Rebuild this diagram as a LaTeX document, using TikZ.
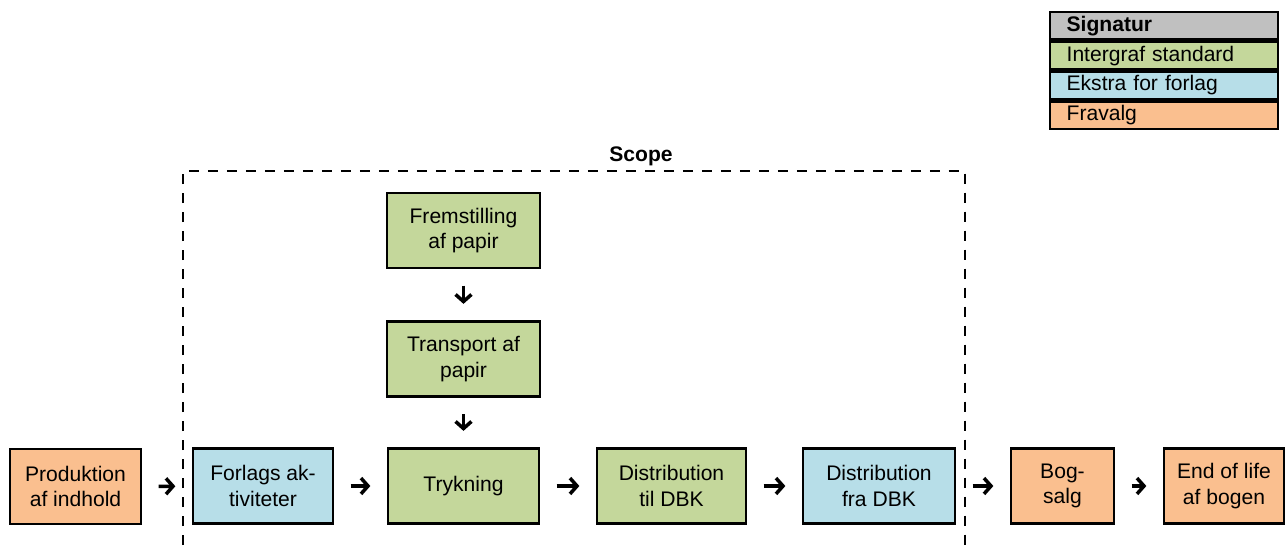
\documentclass[tikz,border=0pt]{standalone}
\usepackage{fontspec}
\setmainfont{Liberation Sans}
\usetikzlibrary{arrows.meta}
\definecolor{signgray}{HTML}{C0C0C0}
\definecolor{standardgreen}{HTML}{C4D79B}
\definecolor{ekstrablue}{HTML}{B7DEE8}
\definecolor{fravalgorange}{HTML}{FABF8F}
\begin{document}
\begin{tikzpicture}[x=0.02cm,y=-0.02cm]
            \tikzstyle{box}=[draw,line width=1.3pt,align=center,minimum height=1.5cm,inner sep=2pt,font=\fontsize{12}{14.5}\selectfont]
            \tikzstyle{std}=[box,fill=standardgreen]
            \tikzstyle{ekstra}=[box,fill=ekstrablue]
            \tikzstyle{fravalg}=[box,fill=fravalgorange]
            \tikzstyle{legend row}=[draw,line width=1.3pt,anchor=north west,minimum height=0.55cm,text width=3.9cm,inner xsep=0.33cm,inner ysep=0pt,align=left,font=\fontsize{12}{14.5}\selectfont]
            \tikzstyle{flow}=[line width=2pt,-{Straight Barb[length=4pt,width=9pt]},shorten <=0.33cm,shorten >=0.33cm]
            \tikzstyle{scope line}=[line width=1.1pt,dash pattern=on 0.2cm off 0.18cm]

            \useasboundingbox (0,0) rectangle (1286,545);

            % scope frame
            \node (scope) [font=\bfseries\fontsize{12}{14}\selectfont] at (641,156) {Scope};
            \draw[scope line] (183,545) -- (183,171) -- (965,171) -- (965,545);

            % main chain
            \node (prod)[fravalg,minimum width=2.62cm] at (75.5,486.5) {Produktion\\af indhold};
            \node (forl)[ekstra,minimum width=2.8cm] at (263,486) {Forlags ak-\\tiviteter};
            \node (tryk)[std,minimum width=3.02cm] at (463.5,486) {Trykning};
            \node (tildbk)[std,minimum width=2.98cm] at (671.5,486) {Distribution\\til DBK};
            \node (fradbk)[ekstra,minimum width=3.04cm] at (879,486) {Distribution\\fra DBK};
            \node (salg)[fravalg,minimum width=2.06cm] at (1062.5,486) {Bog-\\salg};
            \node (eol)[fravalg,minimum width=2.4cm] at (1224,486) {End of life\\af bogen};

            % paper branch
            \node (papir)[std,minimum width=3.06cm] at (463.5,230.5) {Fremstilling\\af papir};
            \node (transp)[std,minimum width=3.06cm] at (463.5,359) {Transport af\\papir};

            \draw[flow] (prod) -- (forl);
            \draw[flow] (forl) -- (tryk);
            \draw[flow] (tryk) -- (tildbk);
            \draw[flow] (tildbk) -- (fradbk);
            \draw[flow] (fradbk) -- (salg);
            \draw[flow] (salg) -- (eol);
            \draw[flow] (papir) -- (transp);
            \draw[flow] (transp) -- (tryk);

            % legend
            \node (sig)[legend row,fill=signgray,font=\bfseries\fontsize{12}{14.5}\selectfont] at (1049,11) {Signatur};
            \node (lstd)[legend row,fill=standardgreen] at (sig.south west) {Intergraf standard};
            \node (lekstra)[legend row,fill=ekstrablue] at (lstd.south west) {Ekstra for forlag};
            \node (lfravalg)[legend row,fill=fravalgorange] at (lekstra.south west) {Fravalg};
        \end{tikzpicture}
\end{document}
